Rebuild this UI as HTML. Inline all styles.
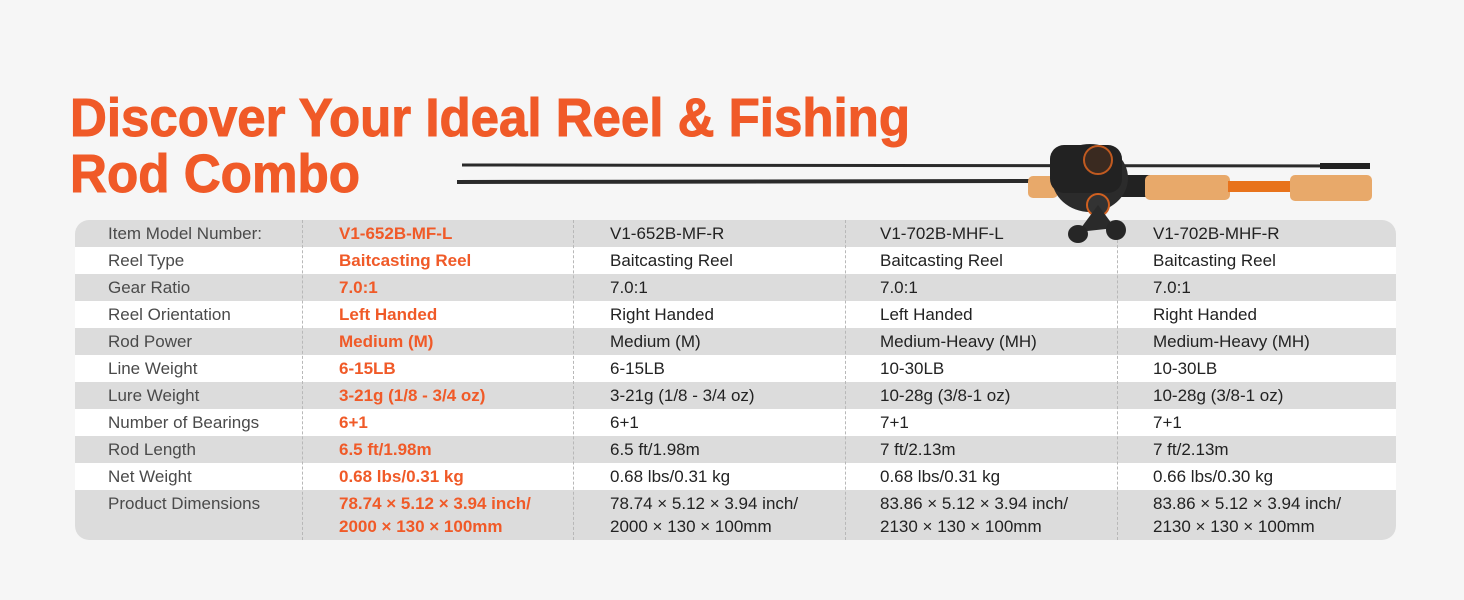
<!DOCTYPE html>
<html><head><meta charset="utf-8"><style>
body{margin:0;width:1464px;height:600px;background:#f6f6f6;font-family:"Liberation Sans",Arial,sans-serif;overflow:hidden;position:relative}
.tbl{position:absolute;left:75px;top:220px;width:1321px;height:320px;border-radius:14px;overflow:hidden;background:#fff}
.row{position:absolute;left:0;width:1321px;height:27px}
.g{background:#dcdcdc}
.c{position:absolute;top:0;font-size:17px;line-height:27px;color:#222;white-space:nowrap}
.l{left:33px;color:#4a4a4a}
.o{left:264px;color:#f05a28;font-weight:bold}
.c3{left:535px}.c4{left:805px}.c5{left:1078px}
.dl{position:absolute;top:0;height:320px;border-left:1px dashed #b8b8b8}
.tall .c{line-height:23px;top:2px}
</style></head><body>
<svg style="position:absolute;left:0;top:0" width="1464" height="220">
<text x="70" y="136" font-family="Liberation Sans,Arial,sans-serif" font-weight="bold" font-size="54" fill="#f05a28" stroke="#f05a28" stroke-width="1" textLength="840" lengthAdjust="spacingAndGlyphs">Discover Your Ideal Reel &amp; Fishing</text>
<text x="70" y="192" font-family="Liberation Sans,Arial,sans-serif" font-weight="bold" font-size="54" fill="#f05a28" stroke="#f05a28" stroke-width="1" textLength="290" lengthAdjust="spacingAndGlyphs">Rod Combo</text>
<line x1="462" y1="165" x2="1370" y2="166" stroke="#2a2a2a" stroke-width="3"/>
<line x1="1320" y1="166" x2="1370" y2="166" stroke="#222" stroke-width="6"/>
<line x1="457" y1="182" x2="1045" y2="181" stroke="#2a2a2a" stroke-width="4"/>
<rect x="1028" y="176" width="30" height="22" rx="5" fill="#e8a96a"/>
<rect x="1110" y="175" width="40" height="22" fill="#222"/>
<rect x="1145" y="175" width="85" height="25" rx="5" fill="#e8a96a"/>
<rect x="1228" y="181" width="64" height="11" fill="#e8731c"/>
<rect x="1290" y="175" width="82" height="26" rx="5" fill="#e8a96a"/>
</svg>
<div class="tbl">
<div class="row g" style="top:0"><div class="c l">Item Model Number:</div><div class="c o">V1-652B-MF-L</div><div class="c c3">V1-652B-MF-R</div><div class="c c4">V1-702B-MHF-L</div><div class="c c5">V1-702B-MHF-R</div></div>
<div class="row" style="top:27px"><div class="c l">Reel Type</div><div class="c o">Baitcasting Reel</div><div class="c c3">Baitcasting Reel</div><div class="c c4">Baitcasting Reel</div><div class="c c5">Baitcasting Reel</div></div>
<div class="row g" style="top:54px"><div class="c l">Gear Ratio</div><div class="c o">7.0:1</div><div class="c c3">7.0:1</div><div class="c c4">7.0:1</div><div class="c c5">7.0:1</div></div>
<div class="row" style="top:81px"><div class="c l">Reel Orientation</div><div class="c o">Left Handed</div><div class="c c3">Right Handed</div><div class="c c4">Left Handed</div><div class="c c5">Right Handed</div></div>
<div class="row g" style="top:108px"><div class="c l">Rod Power</div><div class="c o">Medium (M)</div><div class="c c3">Medium (M)</div><div class="c c4">Medium-Heavy (MH)</div><div class="c c5">Medium-Heavy (MH)</div></div>
<div class="row" style="top:135px"><div class="c l">Line Weight</div><div class="c o">6-15LB</div><div class="c c3">6-15LB</div><div class="c c4">10-30LB</div><div class="c c5">10-30LB</div></div>
<div class="row g" style="top:162px"><div class="c l">Lure Weight</div><div class="c o">3-21g (1/8 - 3/4 oz)</div><div class="c c3">3-21g (1/8 - 3/4 oz)</div><div class="c c4">10-28g (3/8-1 oz)</div><div class="c c5">10-28g (3/8-1 oz)</div></div>
<div class="row" style="top:189px"><div class="c l">Number of Bearings</div><div class="c o">6+1</div><div class="c c3">6+1</div><div class="c c4">7+1</div><div class="c c5">7+1</div></div>
<div class="row g" style="top:216px"><div class="c l">Rod Length</div><div class="c o">6.5 ft/1.98m</div><div class="c c3">6.5 ft/1.98m</div><div class="c c4">7 ft/2.13m</div><div class="c c5">7 ft/2.13m</div></div>
<div class="row" style="top:243px"><div class="c l">Net Weight</div><div class="c o">0.68 lbs/0.31 kg</div><div class="c c3">0.68 lbs/0.31 kg</div><div class="c c4">0.68 lbs/0.31 kg</div><div class="c c5">0.66 lbs/0.30 kg</div></div>
<div class="row g tall" style="top:270px;height:50px"><div class="c l">Product Dimensions</div><div class="c o">78.74 × 5.12 × 3.94 inch/<br>2000 × 130 × 100mm</div><div class="c c3">78.74 × 5.12 × 3.94 inch/<br>2000 × 130 × 100mm</div><div class="c c4">83.86 × 5.12 × 3.94 inch/<br>2130 × 130 × 100mm</div><div class="c c5">83.86 × 5.12 × 3.94 inch/<br>2130 × 130 × 100mm</div></div>
<div class="dl" style="left:227px"></div><div class="dl" style="left:498px"></div><div class="dl" style="left:770px"></div><div class="dl" style="left:1042px"></div>
</div>
<svg style="position:absolute;left:0;top:0" width="1464" height="260">
<ellipse cx="1090" cy="178" rx="38" ry="34" fill="#2b2b2b"/>
<rect x="1050" y="145" width="72" height="48" rx="14" fill="#222"/>
<circle cx="1098" cy="160" r="14" fill="#3a2a20" stroke="#c05a20" stroke-width="2"/>
<circle cx="1098" cy="205" r="11" fill="#333" stroke="#d06020" stroke-width="2"/>
<path d="M1098 205 L1078 232 L1115 228 Z" fill="#2a2a2a"/>
<ellipse cx="1078" cy="234" rx="10" ry="9" fill="#262626"/>
<ellipse cx="1116" cy="230" rx="10" ry="10" fill="#262626"/>
</svg>
</body></html>
